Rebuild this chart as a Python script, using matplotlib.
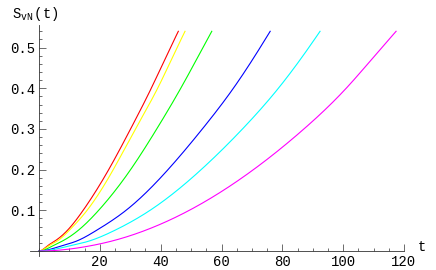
import numpy as np
import matplotlib
matplotlib.use("Agg")
import matplotlib.pyplot as plt
from matplotlib import ticker

plt.rcParams['font.family'] = ['Liberation Mono', 'DejaVu Sans Mono']
plt.rcParams['mathtext.fontset'] = 'custom'
plt.rcParams['mathtext.rm'] = 'Liberation Mono'
plt.rcParams['mathtext.it'] = 'Liberation Mono'

# entropy levels
s_levels = [0.0, 0.0123, 0.0246, 0.049, 0.1, 0.2, 0.3, 0.4, 0.5, 0.54]

# time at which each curve reaches those levels
t_red     = [0.0, 2.7, 5.2, 9.1, 14.5, 22.9, 30.1, 36.9, 43.2, 45.8]
t_yellow  = [0.0, 3.1, 6.0, 9.7, 15.8, 24.4, 31.7, 39.0, 45.4, 48.0]
t_green   = [0.0, 4.4, 7.7, 12.6, 19.6, 30.1, 38.7, 46.6, 53.9, 56.8]
t_blue    = [0.0, 7.2, 12.4, 18.5, 28.6, 42.4, 53.7, 63.9, 72.7, 76.0]
t_cyan    = [0.0, 9.9, 16.5, 24.4, 36.5, 53.3, 66.9, 78.7, 88.7, 92.4]
t_magenta = [0.0, 16.5, 24.0, 34.3, 49.4, 70.5, 87.1, 101.0, 112.7, 117.4]

curves = [t_red, t_yellow, t_green, t_blue, t_cyan, t_magenta]
colors = ['#ff0000', '#ffff00', '#00ff00', '#0000ff', '#00ffff', '#ff00ff']


def spline(x, y, xn):
    # cubic spline through the read points (flat start, natural end),
    # only used to draw a smooth line
    x = np.asarray(x, float)
    y = np.asarray(y, float)
    n = len(x)
    h = np.diff(x)
    d = np.diff(y) / h
    A = np.zeros((n, n))
    b = np.zeros(n)
    A[0, 0], A[0, 1] = 2 * h[0], h[0]
    b[0] = 6 * d[0]
    for i in range(1, n - 1):
        A[i, i - 1] = h[i - 1]
        A[i, i] = 2 * (h[i - 1] + h[i])
        A[i, i + 1] = h[i]
        b[i] = 6 * (d[i] - d[i - 1])
    A[-1, -1] = 1.0
    M = np.linalg.solve(A, b)
    i = np.clip(np.searchsorted(x, xn) - 1, 0, n - 2)
    hi = h[i]
    a = x[i + 1] - xn
    c = xn - x[i]
    return (M[i] * a**3 / (6 * hi) + M[i + 1] * c**3 / (6 * hi)
            + (y[i] / hi - M[i] * hi / 6) * a
            + (y[i + 1] / hi - M[i + 1] * hi / 6) * c)


fig = plt.figure(figsize=(4.36, 2.70), dpi=100)
ax = fig.add_axes([0.0686, 0.0522, 0.858, 0.856])

for t, c in zip(curves, colors):
    tt = np.linspace(t[0], t[-1], 400)
    ax.plot(tt, spline(t, s_levels, tt), color=c, lw=0.8)

ax.set_xlim(-3, 120)
ax.set_ylim(-0.012, 0.556)

for side in ['top', 'right']:
    ax.spines[side].set_visible(False)
ax.spines['left'].set_position(('data', 0))
ax.spines['bottom'].set_position(('data', 0))
for side in ['left', 'bottom']:
    ax.spines[side].set_linewidth(0.6)
    ax.spines[side].set_color('#333333')

ax.xaxis.set_major_locator(ticker.FixedLocator([20, 40, 60, 80, 100, 120]))
ax.xaxis.set_minor_locator(ticker.MultipleLocator(5))
ax.yaxis.set_major_locator(ticker.FixedLocator([0.1, 0.2, 0.3, 0.4, 0.5]))
ax.yaxis.set_minor_locator(ticker.MultipleLocator(0.02))
ax.tick_params(which='both', direction='in', width=0.5, color='#333333',
               labelsize=10, pad=3)
ax.tick_params(which='major', length=5)
ax.tick_params(which='minor', length=2.5)
ax.yaxis.set_major_formatter(ticker.FormatStrFormatter('%.1f'))

fig.text(12 / 436, 1 - 14 / 270, r'$\mathrm{S_{vN}\,(t)}$', fontsize=10,
         va='center', ha='left')
fig.text(418 / 436, 1 - 247 / 270, 't', fontsize=10, va='center', ha='left')

fig.savefig('out.png', dpi=100)
